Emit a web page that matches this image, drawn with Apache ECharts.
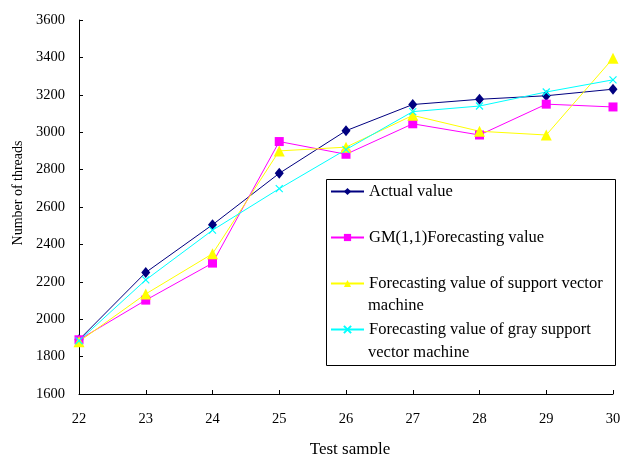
<!DOCTYPE html>
<html>
<head>
<meta charset="utf-8">
<script src="https://cdn.jsdelivr.net/npm/echarts@6/dist/echarts.min.js"></script>
<style>html,body{margin:0;padding:0;background:#fff;}#c{width:622px;height:454px;}</style>
</head>
<body>
<div id="c"></div>
<script>
var categories = ['22','23','24','25','26','27','28','29','30'];
var actualValue = [1890, 2250, 2505, 2780, 3008, 3148, 3176, 3195, 3230];
var gmValue = [1890, 2102, 2300, 2950, 2882, 3045, 2985, 3150, 3135];
var svmValue = [1880, 2135, 2350, 2900, 2920, 3090, 3005, 2985, 3395];
var gsvmValue = [1885, 2210, 2476, 2698, 2907, 3110, 3140, 3215, 3280];
var yTicks = {min: 1600, max: 3600, interval: 200};
var seriesNames = ['Actual value', 'GM(1,1)Forecasting value', 'Forecasting value of support vector machine', 'Forecasting value of gray support vector machine'];
var legendFirstLines = ['Actual value', 'GM(1,1)Forecasting value', 'Forecasting value of support vector', 'Forecasting value of gray support'];
var legendSecondLines = ['', '', 'machine', 'vector machine'];

var FONT = "'Times New Roman','Liberation Serif',serif";
var chart = echarts.init(document.getElementById('c'), null, {renderer: 'canvas'});
function mk(name, data, color, symbol, size, extra) {
  var s = {
    name: name, type: 'line', data: data, symbol: symbol, symbolSize: size,
    showAllSymbol: true, animation: false,
    lineStyle: {color: color, width: 1},
    itemStyle: {color: color},
    emphasis: {disabled: true}
  };
  if (extra) { for (var k in extra) s[k] = extra[k]; }
  return s;
}
var option = {
  backgroundColor: '#fff',
  animation: false,
  grid: {left: 79, right: 9, top: 20, bottom: 60, containLabel: false, outerBoundsMode: 'none'},
  xAxis: {
    type: 'category', data: categories, boundaryGap: false,
    name: 'Test sample', nameLocation: 'middle', nameGap: 47,
    nameTextStyle: {fontFamily: FONT, fontSize: 17, color: '#000', padding: [0, 0, 0, 8]},
    axisLine: {lineStyle: {color: '#000', width: 1}},
    axisTick: {inside: true, length: 4, alignWithLabel: true, lineStyle: {color: '#000'}},
    axisLabel: {margin: 18, fontFamily: FONT, fontSize: 14.5, color: '#000'},
    splitLine: {show: false}
  },
  yAxis: {
    type: 'value', min: yTicks.min, max: yTicks.max, interval: yTicks.interval,
    name: 'Number of threads', nameLocation: 'middle', nameGap: 54, nameRotate: 90,
    nameTextStyle: {fontFamily: FONT, fontSize: 14, color: '#000', padding: [0, 0, 0, 28]},
    axisLine: {show: true, lineStyle: {color: '#000', width: 1}},
    axisTick: {show: true, inside: true, length: 4, lineStyle: {color: '#000'}},
    axisLabel: {margin: 14, fontFamily: FONT, fontSize: 14.5, color: '#000', formatter: function (v) { return String(v); }},
    splitLine: {show: false}
  },
  legend: {
    orient: 'vertical', left: 330, top: 183, padding: 0,
    itemWidth: 33, itemHeight: 9, itemGap: 29,
    data: seriesNames,
    formatter: function (n) { return legendFirstLines[seriesNames.indexOf(n)]; },
    textStyle: {fontFamily: FONT, fontSize: 16.5, color: '#000'},
    selectedMode: false
  },
  graphic: [
    {type: 'rect', left: 324, top: 177, shape: {width: 289, height: 186}, style: {fill: 'none', stroke: '#000', lineWidth: 1}, z: 0},
    {type: 'text', left: 368, top: 297, style: {text: legendSecondLines[2], font: "16.5px 'Times New Roman','Liberation Serif',serif", fill: '#000'}},
    {type: 'text', left: 368, top: 344, style: {text: legendSecondLines[3], font: "16.5px 'Times New Roman','Liberation Serif',serif", fill: '#000'}}
  ],
  series: [
    mk(seriesNames[0], actualValue, '#000080', 'diamond', [9, 11]),
    mk(seriesNames[1], gmValue, '#FF00FF', 'rect', 9),
    mk(seriesNames[2], svmValue, '#FFFF00', 'triangle', 11),
    mk(seriesNames[3], gsvmValue, '#00FFFF', 'path://M0,0L10,10M10,0L0,10', 7,
       {itemStyle: {color: '#00FFFF', borderColor: '#00FFFF', borderWidth: 1.2}})
  ]
};
chart.setOption(option);
</script>
</body>
</html>
